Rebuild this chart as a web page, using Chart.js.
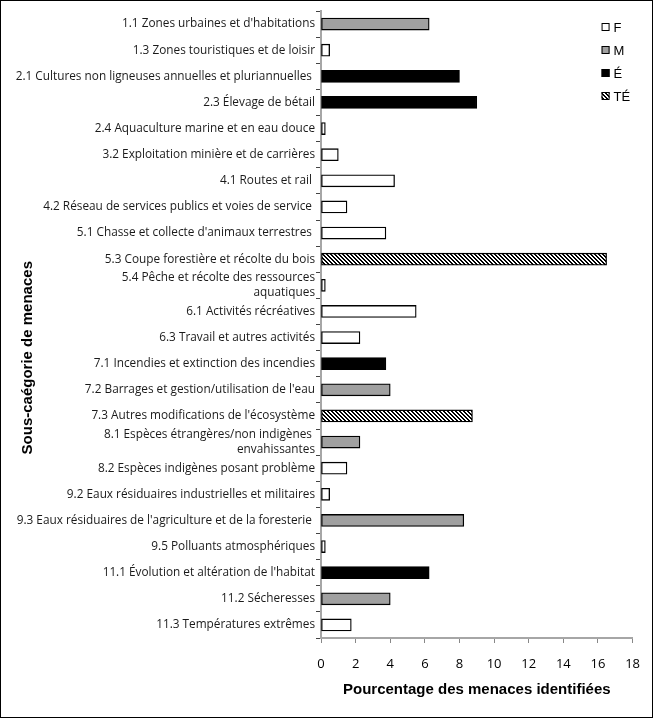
<!DOCTYPE html>
<html>
<head>
<meta charset="utf-8">
<script src="https://cdn.jsdelivr.net/npm/chart.js@4.4.0/dist/chart.umd.min.js"></script>
<style>
  body { margin: 0; background: #fff; }
  #wrap { width: 653px; height: 718px; position: relative; }
</style>
</head>
<body>
<div id="wrap"><canvas id="threatChart"></canvas></div>
<script>
// sous-catégories de menaces (ordre du graphique, de haut en bas)
const categories = [
    "1.1 Zones urbaines et d'habitations",
    "1.3 Zones touristiques et de loisir",
    "2.1 Cultures non ligneuses annuelles et pluriannuelles ",
    "2.3 Élevage de bétail",
    "2.4 Aquaculture marine et en eau douce",
    "3.2 Exploitation minière et de carrières",
    "4.1 Routes et rail ",
    "4.2 Réseau de services publics et voies de service ",
    "5.1 Chasse et collecte d'animaux terrestres ",
    "5.3 Coupe forestière et récolte du bois",
    ["5.4 Pêche et récolte des ressources", "aquatiques"],
    "6.1 Activités récréatives",
    "6.3 Travail et autres activités",
    "7.1 Incendies et extinction des incendies",
    "7.2 Barrages et gestion/utilisation de l'eau",
    "7.3 Autres modifications de l'écosystème",
    ["8.1 Espèces étrangères/non indigènes ", "envahissantes"],
    "8.2 Espèces indigènes posant problème",
    "9.2 Eaux résiduaires industrielles et militaires",
    "9.3 Eaux résiduaires de l'agriculture et de la foresterie ",
    "9.5 Polluants atmosphériques",
    "11.1 Évolution et altération de l'habitat",
    "11.2 Sécheresses",
    "11.3 Températures extrêmes"
];

const seriesLabels = ['F', 'M', 'É', 'TÉ'];

// pourcentage des menaces identifiées, par niveau d'impact
const valuesF  = [null, 0.5, null, null, 0.25, 1.0, 4.25, 1.5, 3.75, null, 0.25, 5.5, 2.25, null, null, null, null, 1.5, 0.5, null, 0.25, null, null, 1.75];
const valuesM  = [6.25, null, null, null, null, null, null, null, null, null, null, null, null, null, 4.0, null, 2.25, null, null, 8.25, null, null, 4.0, null];
const valuesE  = [null, null, 8.0, 9.0, null, null, null, null, null, null, null, null, null, 3.75, null, null, null, null, null, null, null, 6.25, null, null];
const valuesTE = [null, null, null, null, null, null, null, null, null, 16.5, null, null, null, null, null, 8.75, null, null, null, null, null, null, null, null];

const xTicks = [0, 2, 4, 6, 8, 10, 12, 14, 16, 18];
const yTitle = 'Sous-caégorie de menaces';

// motif hachuré pour TÉ
function makeHatch() {
    const c = document.createElement('canvas');
    c.width = 4; c.height = 4;
    const g = c.getContext('2d');
    g.fillStyle = '#fff';
    g.fillRect(0, 0, 4, 4);
    g.fillStyle = '#000';
    for (let y = 0; y < 4; y++) {
        for (let x = 0; x < 4; x++) {
            if (((x - y) % 4 + 4) % 4 < 2) g.fillRect(x, y, 1, 1);
        }
    }
    return g.createPattern(c, 'repeat');
}
const hatch = makeHatch();
const fills = ['#ffffff', '#a0a0a0', '#000000', hatch];

// fond blanc + cadre
const framePlugin = {
    id: 'frame',
    beforeDraw(chart) {
        const ctx = chart.ctx;
        ctx.save();
        ctx.fillStyle = '#fff';
        ctx.fillRect(0, 0, chart.width, chart.height);
        ctx.strokeStyle = '#000';
        ctx.lineWidth = 1;
        ctx.strokeRect(0.5, 0.5, chart.width - 1, chart.height - 1);
        ctx.restore();
    }
};

// titre de l'axe vertical, un peu sous le milieu comme dans l'original
const yTitlePlugin = {
    id: 'yTitle',
    afterDraw(chart) {
        const ctx = chart.ctx;
        const area = chart.chartArea;
        ctx.save();
        ctx.translate(28, area.top + (area.bottom - area.top) * 0.553);
        ctx.rotate(-Math.PI / 2);
        ctx.font = 'bold 15px "Liberation Sans"';
        ctx.fillStyle = '#000';
        ctx.textAlign = 'center';
        ctx.textBaseline = 'middle';
        ctx.fillText(yTitle, 0, 0);
        ctx.restore();
    }
};

// légende dans le coin supérieur droit de la zone de tracé
const cornerLegend = {
    id: 'cornerLegend',
    afterDraw(chart) {
        const ctx = chart.ctx;
        const x0 = chart.chartArea.right - 31;
        ctx.save();
        ctx.font = '13px "Liberation Sans"';
        ctx.textBaseline = 'middle';
        chart.data.datasets.forEach((ds, i) => {
            const y = chart.chartArea.top + 16 + i * 23;
            ctx.fillStyle = ds.backgroundColor;
            ctx.fillRect(x0, y - 4, 8, 8);
            ctx.strokeStyle = '#000';
            ctx.lineWidth = 1;
            ctx.strokeRect(x0 + 0.5, y - 3.5, 7, 7);
            ctx.fillStyle = '#000';
            ctx.fillText(ds.label, x0 + 12, y + 1);
        });
        ctx.restore();
    }
};

const seriesValues = [valuesF, valuesM, valuesE, valuesTE];

new Chart(document.getElementById('threatChart'), {
    type: 'bar',
    data: {
        labels: categories,
        datasets: seriesLabels.map((lab, i) => ({
            label: lab,
            data: seriesValues[i],
            backgroundColor: fills[i],
            borderColor: '#000',
            borderWidth: 1.3,
            borderSkipped: false,
            barThickness: 12
        }))
    },
    options: {
        indexAxis: 'y',
        responsive: true,
        maintainAspectRatio: false,
        animation: false,
        layout: { padding: { top: 11, right: 17, bottom: 0, left: 0 } },
        plugins: {
            legend: { display: false },
            tooltip: { enabled: false }
        },
        scales: {
            x: {
                stacked: true,
                min: 0,
                max: 18,
                afterBuildTicks(scale) {
                    scale.ticks = xTicks.map(v => ({ value: v }));
                },
                afterFit(scale) { scale.height = 80; },
                grid: { drawOnChartArea: false, tickLength: 5, color: '#888' },
                border: { color: '#a6a6a6', width: 2 },
                ticks: {
                    padding: 13,
                    color: '#000',
                    font: { family: 'Open Sans', size: 13 }
                },
                title: {
                    display: true,
                    text: 'Pourcentage des menaces identifiées',
                    color: '#000',
                    font: { family: 'Liberation Sans', size: 15, weight: 'bold' },
                    padding: { top: 0, bottom: 19 }
                }
            },
            y: {
                stacked: true,
                afterFit(scale) { scale.width = 321; },
                grid: { drawOnChartArea: false, tickLength: 5, offset: true, color: '#444' },
                border: { color: '#a6a6a6', width: 2 },
                ticks: {
                    autoSkip: false,
                    padding: 1,
                    color: '#1a1a1a',
                    font: { family: 'Open Sans', size: 11.8, lineHeight: 1.25 }
                }
            }
        }
    },
    plugins: [framePlugin, yTitlePlugin, cornerLegend]
});
</script>
</body>
</html>
